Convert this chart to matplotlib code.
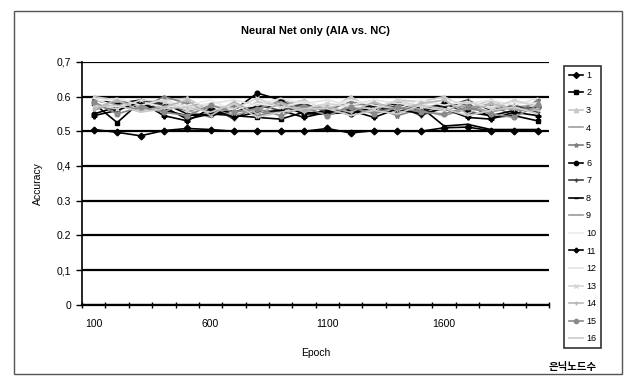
import matplotlib
matplotlib.use("Agg")
import matplotlib.pyplot as plt
from matplotlib.patches import Rectangle
import numpy as np

plt.rcParams['font.family'] = ['Liberation Sans', 'Noto Sans CJK KR', 'DejaVu Sans']

epochs = [100, 200, 300, 400, 500, 600, 700, 800, 900, 1000,
          1100, 1200, 1300, 1400, 1500, 1600, 1700, 1800, 1900, 2000]
x_labels = ["100", "600", "1100", "1600"]
y_labels = ["0", "0,1", "0.2", "0.3", "0,4", "0.5", "0.6", "0,7"]
series_names = [str(i) for i in range(1, 17)]

acc = [
    [0.505, 0.497, 0.487, 0.502, 0.508, 0.505, 0.500, 0.500, 0.500, 0.500, 0.508, 0.495, 0.502, 0.500, 0.500, 0.510, 0.512, 0.502, 0.502, 0.502],
    [0.580, 0.525, 0.585, 0.570, 0.535, 0.550, 0.545, 0.540, 0.535, 0.555, 0.550, 0.555, 0.570, 0.560, 0.555, 0.575, 0.580, 0.540, 0.545, 0.530],
    [0.600, 0.590, 0.570, 0.590, 0.595, 0.560, 0.550, 0.585, 0.575, 0.590, 0.560, 0.600, 0.560, 0.590, 0.585, 0.600, 0.565, 0.590, 0.560, 0.585],
    [0.570, 0.580, 0.560, 0.580, 0.560, 0.540, 0.575, 0.560, 0.590, 0.570, 0.545, 0.575, 0.580, 0.555, 0.570, 0.560, 0.575, 0.555, 0.570, 0.575],
    [0.590, 0.575, 0.565, 0.600, 0.580, 0.555, 0.570, 0.545, 0.560, 0.575, 0.560, 0.585, 0.570, 0.545, 0.565, 0.580, 0.560, 0.575, 0.545, 0.590],
    [0.550, 0.570, 0.580, 0.560, 0.545, 0.550, 0.560, 0.610, 0.590, 0.550, 0.560, 0.550, 0.570, 0.580, 0.560, 0.580, 0.555, 0.545, 0.560, 0.570],
    [0.575, 0.560, 0.590, 0.575, 0.560, 0.570, 0.535, 0.575, 0.560, 0.580, 0.555, 0.565, 0.555, 0.575, 0.545, 0.570, 0.590, 0.560, 0.575, 0.555],
    [0.590, 0.580, 0.590, 0.580, 0.550, 0.545, 0.560, 0.570, 0.575, 0.550, 0.550, 0.560, 0.575, 0.565, 0.570, 0.515, 0.520, 0.505, 0.505, 0.505],
    [0.560, 0.585, 0.575, 0.555, 0.585, 0.565, 0.545, 0.565, 0.585, 0.560, 0.575, 0.545, 0.565, 0.585, 0.560, 0.545, 0.565, 0.580, 0.560, 0.565],
    [0.595, 0.570, 0.585, 0.570, 0.575, 0.590, 0.560, 0.580, 0.570, 0.585, 0.570, 0.590, 0.575, 0.565, 0.590, 0.575, 0.585, 0.570, 0.585, 0.580],
    [0.545, 0.560, 0.585, 0.545, 0.530, 0.565, 0.540, 0.555, 0.560, 0.540, 0.555, 0.560, 0.540, 0.565, 0.550, 0.565, 0.540, 0.535, 0.555, 0.545],
    [0.585, 0.595, 0.575, 0.590, 0.570, 0.580, 0.590, 0.575, 0.595, 0.580, 0.590, 0.575, 0.590, 0.580, 0.575, 0.590, 0.580, 0.590, 0.575, 0.595],
    [0.575, 0.565, 0.590, 0.585, 0.560, 0.575, 0.565, 0.595, 0.570, 0.565, 0.580, 0.570, 0.565, 0.590, 0.570, 0.560, 0.585, 0.565, 0.590, 0.570],
    [0.565, 0.590, 0.560, 0.570, 0.590, 0.545, 0.585, 0.550, 0.580, 0.555, 0.570, 0.555, 0.585, 0.560, 0.580, 0.590, 0.550, 0.580, 0.565, 0.560],
    [0.585, 0.550, 0.570, 0.555, 0.545, 0.575, 0.555, 0.565, 0.545, 0.570, 0.545, 0.570, 0.550, 0.570, 0.555, 0.550, 0.570, 0.550, 0.540, 0.575],
    [0.570, 0.575, 0.555, 0.565, 0.570, 0.555, 0.580, 0.540, 0.555, 0.565, 0.565, 0.545, 0.560, 0.550, 0.575, 0.565, 0.545, 0.560, 0.570, 0.550],
]

colors = ["black", "black", "#c8c8c8", "#a0a0a0", "#808080", "black", "#404040", "black",
          "#9a9a9a", "#ececec", "black", "#e4e4e4", "#d4d4d4", "#b8b8b8", "#8a8a8a", "#cacaca"]
markers = ["D", "s", "^", "", "*", "o", "+", "_", "", "", "P", "", "x", "+", "o", ""]

fig = plt.figure(figsize=(6.27, 3.84), dpi=100)
ax = fig.add_axes([0.131, 0.206, 0.745, 0.633])

xpos = np.arange(len(epochs))
for i in range(16):
    ax.plot(xpos, acc[i], color=colors[i], marker=markers[i] or None, markersize=3.4,
            linewidth=1.2, label=series_names[i], zorder=3)

ax.set_xlim(-0.5, len(epochs) - 0.5)
ax.set_ylim(0, 0.7)
ax.set_yticks(np.arange(0, 0.71, 0.1))
ax.set_yticklabels(y_labels, fontsize=7.5)
ax.yaxis.grid(True, color="black", linewidth=1.6)
ax.set_axisbelow(True)

ax.set_xticks([epochs.index(int(v)) for v in x_labels])
ax.set_xticklabels(x_labels, fontsize=7.5)
ax.tick_params(axis="x", which="major", length=0, pad=10)
ax.set_xticks(np.arange(-0.5, len(epochs)), minor=True)
ax.tick_params(axis="x", which="minor", direction="inout", length=4, width=1)
ax.tick_params(axis="y", length=4, width=1, pad=4)

for s in ["top", "right"]:
    ax.spines[s].set_visible(False)
ax.spines["left"].set_linewidth(1.2)
ax.spines["bottom"].set_linewidth(1.6)

ax.set_title("Neural Net only (AIA vs. NC)", fontsize=8, fontweight="bold", pad=20)
ax.set_xlabel("Epoch", fontsize=7.5, labelpad=14)
ax.set_ylabel("Accuracy", fontsize=7.5, labelpad=10)

leg = fig.legend(loc="upper left", bbox_to_anchor=(0.893, 0.839), fontsize=6.5,
                 handlelength=1.6, handletextpad=0.3, labelspacing=0.95,
                 borderpad=0.5, frameon=True, fancybox=False, markerscale=0.9)
leg.get_frame().set_edgecolor("black")
leg.get_frame().set_linewidth(1.2)

fig.text(0.952, 0.03, "은닉노드수", fontsize=7.5, fontweight="bold", ha="right", va="bottom")

fig.patches.append(Rectangle((0.022, 0.026), 0.970, 0.945, transform=fig.transFigure,
                             fill=False, edgecolor="#555555", linewidth=1.0))

fig.savefig("out.png", dpi=100)
